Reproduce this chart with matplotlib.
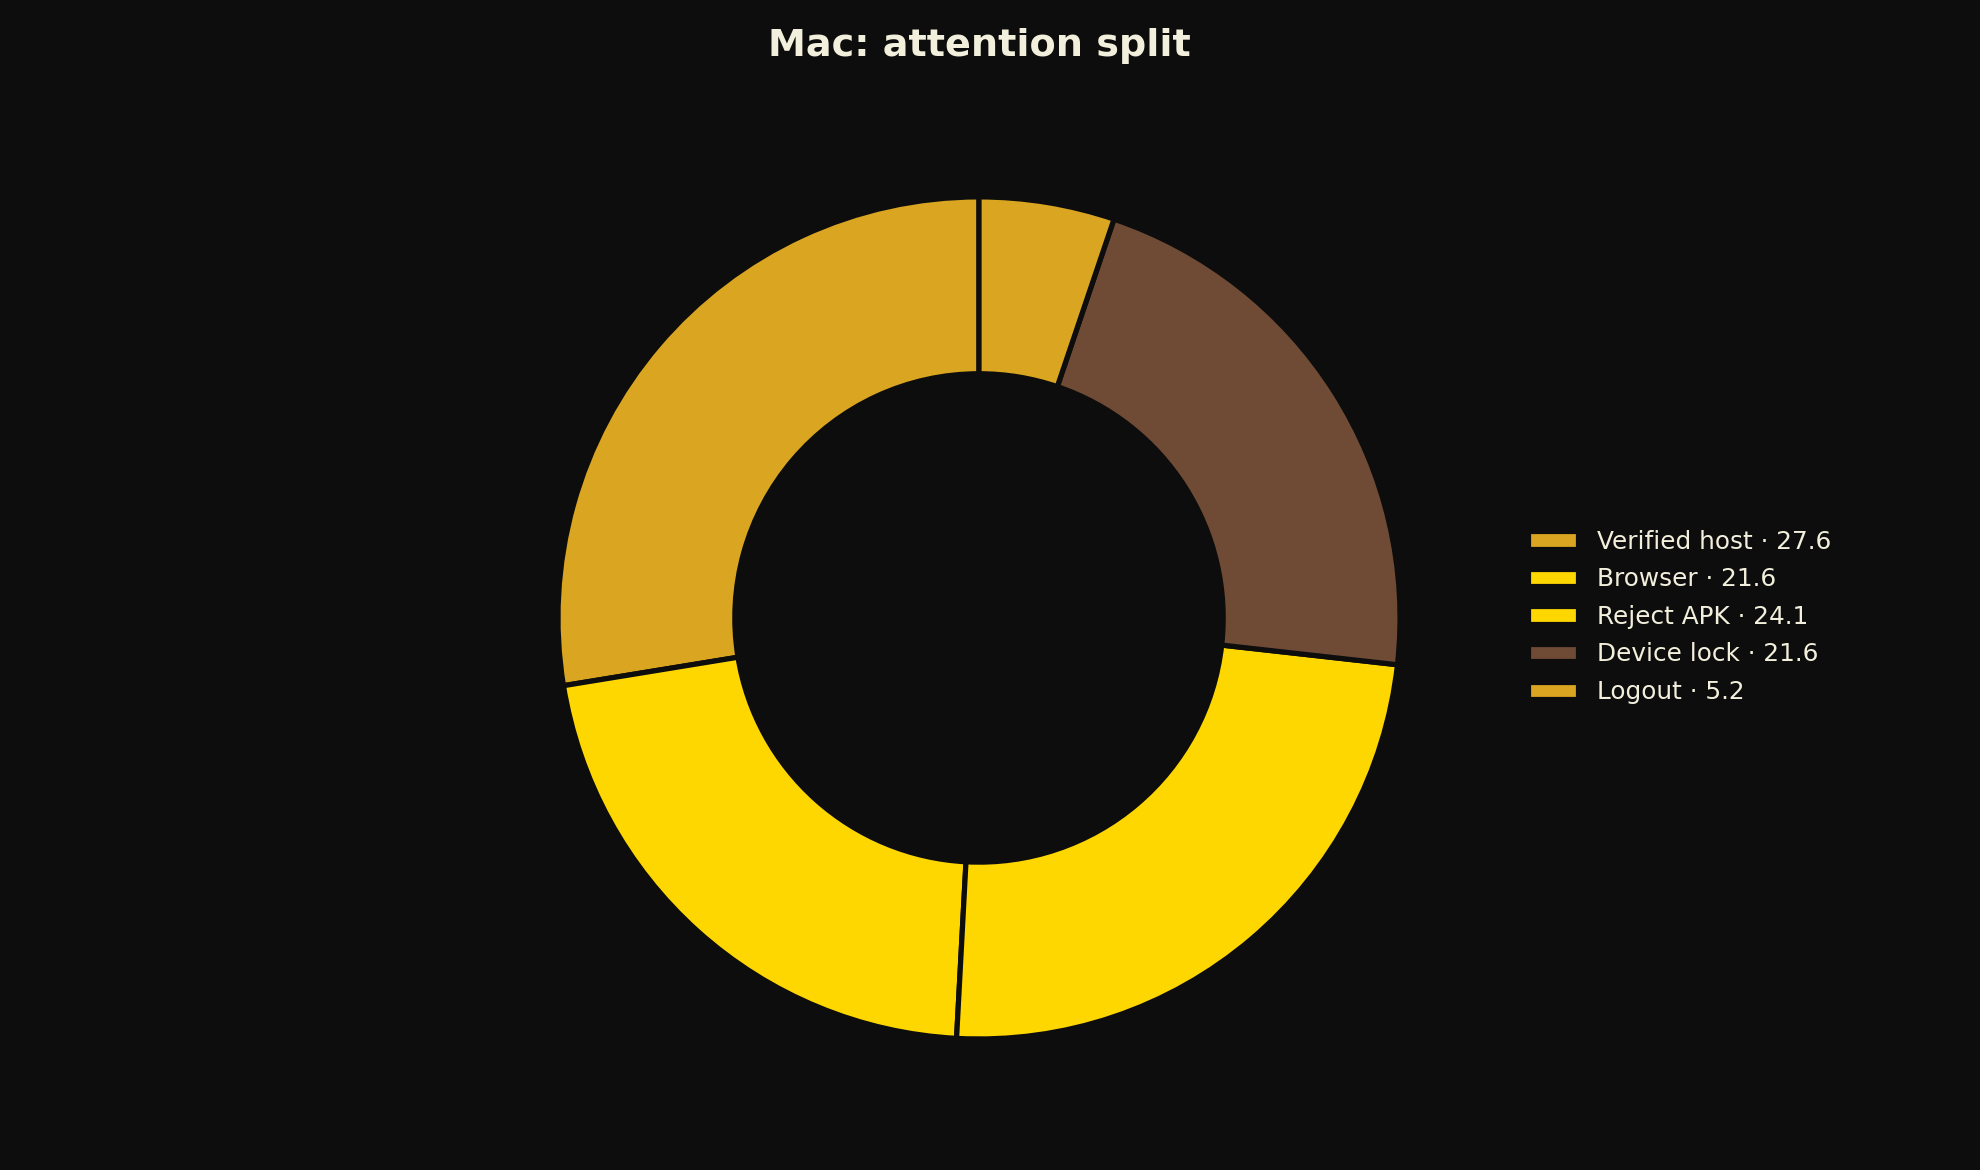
import matplotlib
matplotlib.use("Agg")
import matplotlib.pyplot as plt

# attention split per category
labels = ["Verified host", "Browser", "Reject APK", "Device lock", "Logout"]
values = [27.6, 21.6, 24.1, 21.6, 5.2]
colors = ["#DAA520", "#FFD700", "#FFD700", "#6F4B35", "#DAA520"]

bg = "#0D0D0D"
txt = "#F2EFDC"

fig = plt.figure(figsize=(13.2, 7.8), dpi=150, facecolor=bg)
ax = fig.add_axes([0.2818, 0.112, 0.4253, 0.7197])
ax.set_facecolor(bg)

wedges, _ = ax.pie(values, colors=colors, startangle=90, counterclock=True,
                   radius=1.0,
                   wedgeprops=dict(width=0.42, edgecolor=bg, linewidth=2.5))
ax.set_xlim(-1, 1)
ax.set_ylim(-1, 1)
ax.set_aspect("equal")
ax.axis("off")

leg_labels = [f"{l} \u00b7 {v:.1f}" for l, v in zip(labels, values)]
leg = fig.legend(wedges, leg_labels, loc="center left",
                 bbox_to_anchor=(0.7605, 0.4729), frameon=False,
                 fontsize=11.87, labelspacing=0.55, labelcolor=txt)

fig.suptitle("Mac: attention split", x=0.4945, y=0.961, va="center",
             fontsize=18.3, fontweight="bold", color=txt)

fig.savefig("out.png", dpi=150, facecolor=bg)
